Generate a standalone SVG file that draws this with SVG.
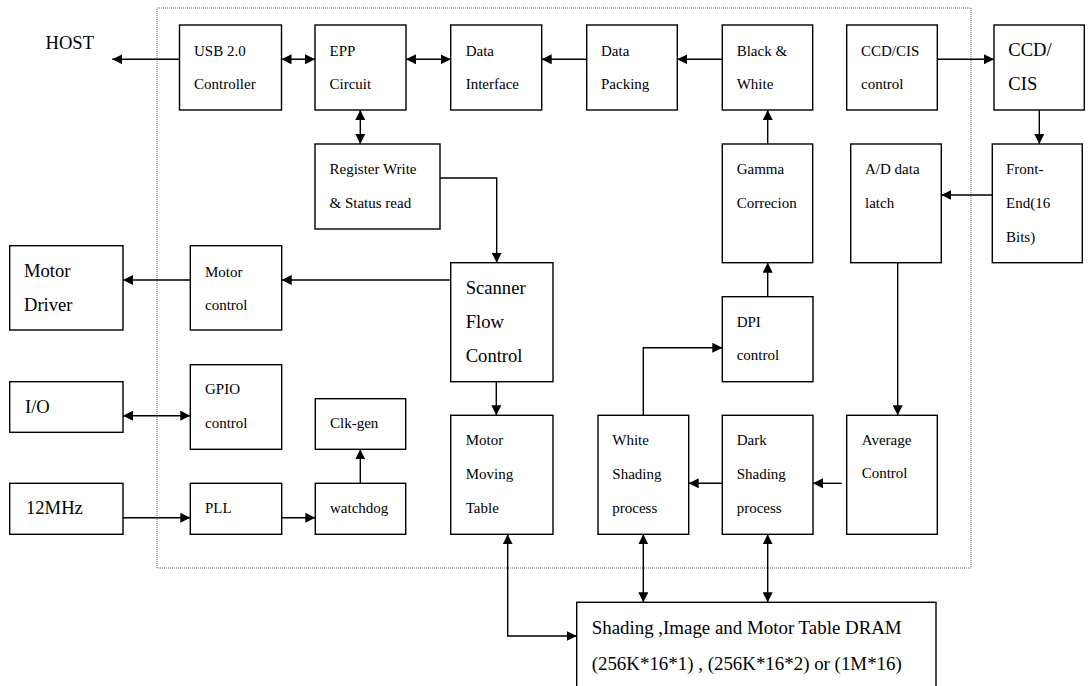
<svg xmlns="http://www.w3.org/2000/svg" width="1088" height="686" viewBox="0 0 1088 686">
<style>
.b{fill:#fff;stroke:#000;stroke-width:1.4}
.t{font-family:'Liberation Serif','Times New Roman',Tinos,'DejaVu Serif',serif;font-size:15px;fill:#000}
.L{font-family:'Liberation Serif','Times New Roman',Tinos,'DejaVu Serif',serif;font-size:18.6px;fill:#000}
.D{font-size:18.9px}
.c{fill:none;stroke:#000;stroke-width:1.4}
.e{marker-end:url(#a)}
.s{marker-start:url(#a)}
</style>
<defs>
<marker id="a" markerUnits="userSpaceOnUse" markerWidth="11" markerHeight="10" refX="10" refY="5" orient="auto-start-reverse" viewBox="0 0 11 10">
<path d="M0,0 L10,5 L0,10 z" fill="#000"/>
</marker>
</defs>
<rect x="157" y="8" width="814" height="560" fill="none" stroke="#666" stroke-width="1" stroke-dasharray="1,1"/>
<g id="host"><text class="L" x="45.5" y="49">HOST</text></g>
<g id="usb"><rect class="b" x="179.5" y="25" width="102" height="85"/><text class="t" x="194" y="56">USB 2.0</text><text class="t" x="194" y="89">Controller</text></g>
<g id="epp"><rect class="b" x="315" y="25" width="91" height="85"/><text class="t" x="329.5" y="56">EPP</text><text class="t" x="329.5" y="89">Circuit</text></g>
<g id="datainterface"><rect class="b" x="450.7" y="25" width="91" height="85"/><text class="t" x="465.7" y="56">Data</text><text class="t" x="465.7" y="89">Interface</text></g>
<g id="datapacking"><rect class="b" x="586.7" y="25" width="90.6" height="85"/><text class="t" x="601" y="56">Data</text><text class="t" x="601" y="89">Packing</text></g>
<g id="bw"><rect class="b" x="722.3" y="25" width="90.4" height="85"/><text class="t" x="736.7" y="56">Black &amp;</text><text class="t" x="736.7" y="89">White</text></g>
<g id="ccdctrl"><rect class="b" x="846.7" y="25" width="90.6" height="85"/><text class="t" x="861" y="56">CCD/CIS</text><text class="t" x="861" y="89">control</text></g>
<g id="ccd"><rect class="b" x="994" y="25" width="90.3" height="85"/><text class="L" x="1008.3" y="56">CCD/</text><text class="L" x="1008.3" y="90">CIS</text></g>
<g id="register"><rect class="b" x="315" y="144" width="125" height="85"/><text class="t" x="329.5" y="174">Register Write</text><text class="t" x="329.5" y="208">&amp; Status read</text></g>
<g id="gamma"><rect class="b" x="722.3" y="144" width="90.4" height="118.7"/><text class="t" x="736.7" y="174">Gamma</text><text class="t" x="736.7" y="208">Correcion</text></g>
<g id="adlatch"><rect class="b" x="850.7" y="144" width="90.6" height="118.7"/><text class="t" x="865" y="174">A/D data</text><text class="t" x="865" y="208">latch</text></g>
<g id="frontend"><rect class="b" x="992.3" y="144" width="90" height="118.7"/><text class="t" x="1006" y="174">Front-</text><text class="t" x="1006" y="208">End(16</text><text class="t" x="1006" y="242">Bits)</text></g>
<g id="motordriver"><rect class="b" x="9.7" y="245.7" width="113.3" height="84.3"/><text class="L" x="24" y="277">Motor</text><text class="L" x="24" y="311">Driver</text></g>
<g id="motorcontrol"><rect class="b" x="190.3" y="245.7" width="91.4" height="84.3"/><text class="t" x="205" y="277">Motor</text><text class="t" x="205" y="310">control</text></g>
<g id="scanner"><rect class="b" x="450.7" y="262.7" width="102.3" height="119"/><text class="L" x="465.7" y="294">Scanner</text><text class="L" x="465.7" y="328">Flow</text><text class="L" x="465.7" y="362">Control</text></g>
<g id="dpi"><rect class="b" x="722.3" y="296.7" width="90.7" height="85"/><text class="t" x="736.7" y="327">DPI</text><text class="t" x="736.7" y="360">control</text></g>
<g id="io"><rect class="b" x="9.7" y="381.7" width="113.3" height="50.6"/><text class="L" x="25" y="413">I/O</text></g>
<g id="gpio"><rect class="b" x="190.3" y="364.7" width="91.4" height="84.6"/><text class="t" x="205" y="394.3">GPIO</text><text class="t" x="205" y="427.7">control</text></g>
<g id="clkgen"><rect class="b" x="315.3" y="398.7" width="90.4" height="50.6"/><text class="t" x="330" y="427.7">Clk-gen</text></g>
<g id="motortable"><rect class="b" x="450.7" y="415.3" width="102.3" height="119"/><text class="t" x="465.7" y="445">Motor</text><text class="t" x="465.7" y="479">Moving</text><text class="t" x="465.7" y="513">Table</text></g>
<g id="white"><rect class="b" x="598" y="415.3" width="90.7" height="119"/><text class="t" x="612.3" y="445">White</text><text class="t" x="612.3" y="479">Shading</text><text class="t" x="612.3" y="513">process</text></g>
<g id="dark"><rect class="b" x="722.3" y="415.3" width="90.7" height="119"/><text class="t" x="736.7" y="445">Dark</text><text class="t" x="736.7" y="479">Shading</text><text class="t" x="736.7" y="513">process</text></g>
<g id="average"><rect class="b" x="846.7" y="415.3" width="90.6" height="119"/><text class="t" x="861.7" y="445">Average</text><text class="t" x="861.7" y="478.3">Control</text></g>
<g id="mhz"><rect class="b" x="9.7" y="483.3" width="113.3" height="51"/><text class="L" x="26" y="514.3">12MHz</text></g>
<g id="pll"><rect class="b" x="190.3" y="483.3" width="91.4" height="51"/><text class="t" x="205" y="513.3">PLL</text></g>
<g id="watchdog"><rect class="b" x="315.3" y="483.3" width="90.4" height="51"/><text class="t" x="330" y="513.3">watchdog</text></g>
<g id="dram"><rect class="b" x="576.7" y="602.3" width="359.3" height="100"/><text class="L D" x="591.7" y="634.3">Shading ,Image and Motor Table DRAM</text><text class="L D" x="591.7" y="670">(256K*16*1) , (256K*16*2) or (1M*16)</text></g>
<g id="connectors">
<path class="c e" d="M179.5,59.3 H112.3"/>
<path class="c e s" d="M281.5,59.3 H315"/>
<path class="c e s" d="M406,59.3 H450.7"/>
<path class="c e" d="M586.7,59.3 H541.7"/>
<path class="c e" d="M722.3,59.3 H677.3"/>
<path class="c e s" d="M360.3,110 V144"/>
<path class="c e" d="M937.3,59.3 H994"/>
<path class="c e" d="M1039.3,110 V144"/>
<path class="c e" d="M992.3,195 H941.3"/>
<path class="c e" d="M440,178 H496.7 V262.7"/>
<path class="c e" d="M767.7,144 V110"/>
<path class="c e" d="M450.7,280 H281.7"/>
<path class="c e" d="M190.3,280 H123"/>
<path class="c e" d="M767.7,296.7 V262.7"/>
<path class="c e" d="M897.7,262.7 V415.3"/>
<path class="c e s" d="M123,415.7 H190.3"/>
<path class="c e" d="M496.3,381.7 V415.3"/>
<path class="c e" d="M643.3,415.3 V347.7 H722.3"/>
<path class="c e" d="M722.3,483.3 H688.7"/>
<path class="c e" d="M841.7,483.3 H813"/>
<path class="c e" d="M360.3,483.3 V449.3"/>
<path class="c e" d="M123,517.7 H190.3"/>
<path class="c e" d="M281.7,517.7 H315.3"/>
<path class="c e s" d="M507.7,534.3 V636 H576.7"/>
<path class="c e s" d="M643.3,534.3 V602.3"/>
<path class="c e s" d="M767.7,534.3 V602.3"/>
</g>
</svg>
